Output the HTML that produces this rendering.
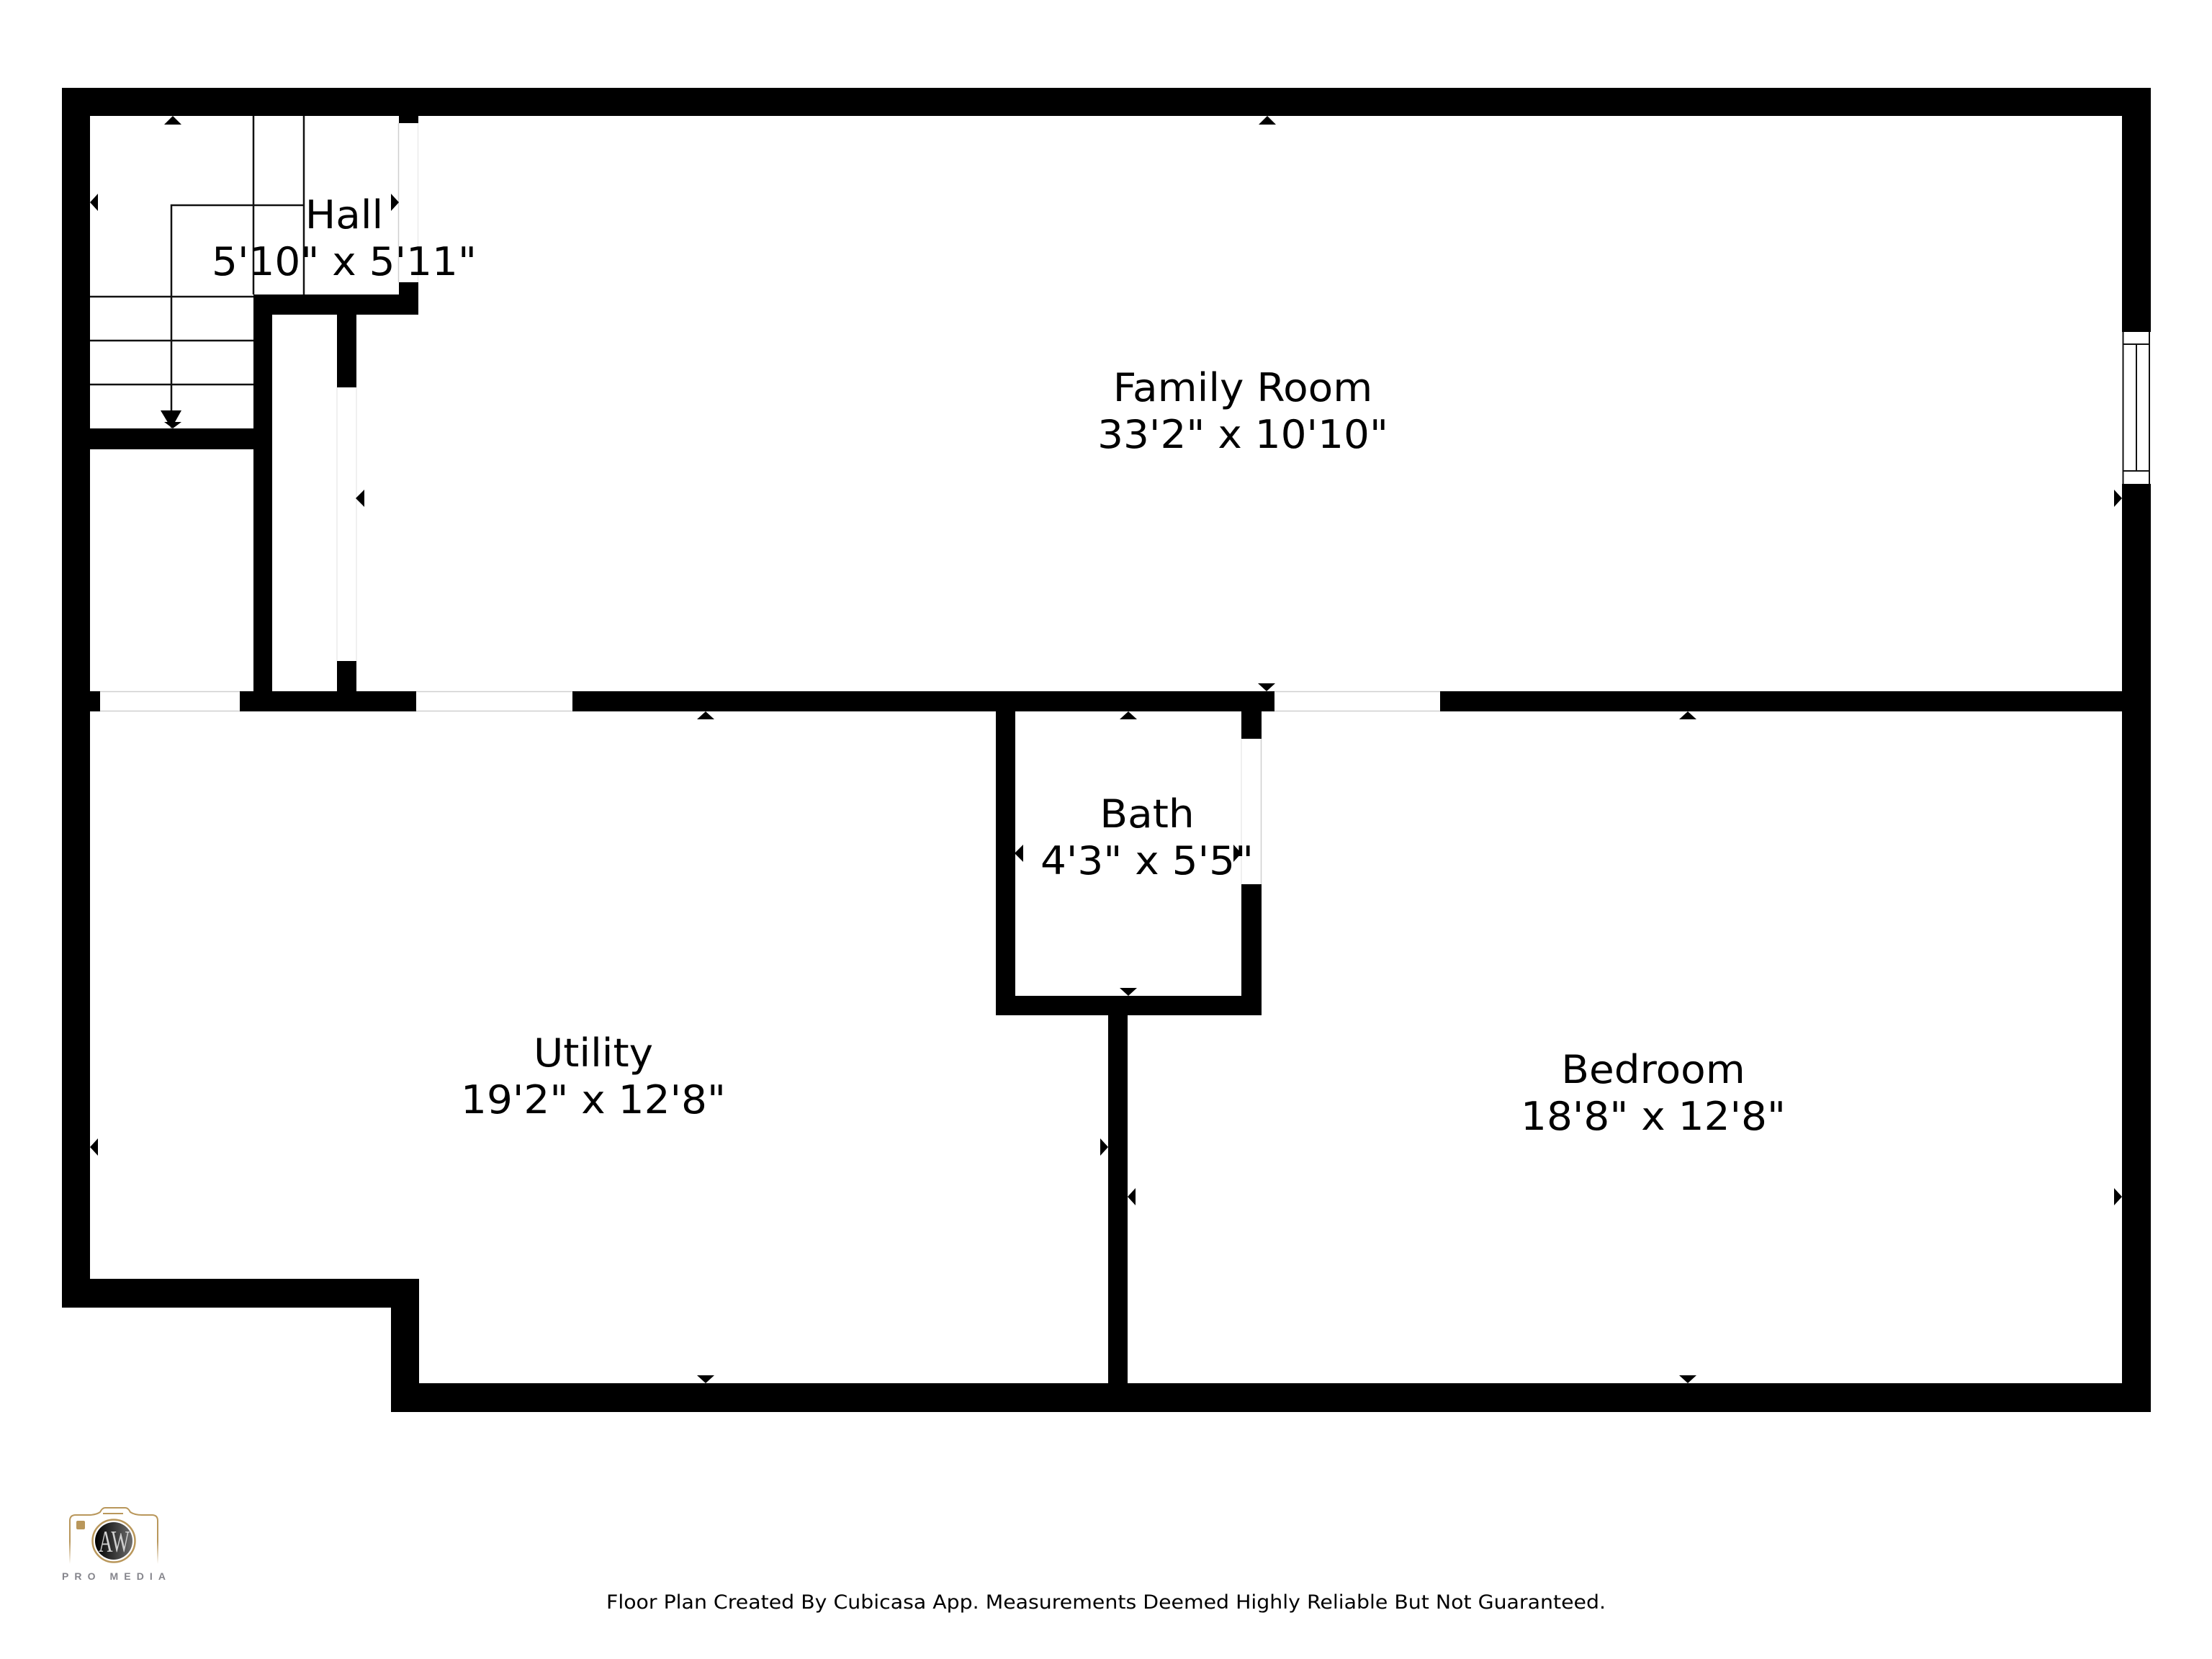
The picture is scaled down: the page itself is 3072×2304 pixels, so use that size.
<!DOCTYPE html>
<html><head><meta charset="utf-8"><style>
html,body{margin:0;padding:0;background:#fff}
svg{display:block}
text{font-family:"DejaVu Sans",sans-serif;fill:#000}
.l{font-size:54px;text-anchor:middle}
</style></head><body>
<svg width="3072" height="2304" viewBox="0 0 3072 2304" xmlns="http://www.w3.org/2000/svg">
<defs>
<linearGradient id="fg" x1="0" y1="0" x2="1" y2="0"><stop offset="0" stop-color="#000"/><stop offset="1" stop-color="#6d6d6d"/></linearGradient>
<linearGradient id="gold" x1="0" y1="0" x2="0" y2="1"><stop offset="0" stop-color="#b9975b"/><stop offset=".6" stop-color="#b9975b"/><stop offset="1" stop-color="#b9975b" stop-opacity="0"/></linearGradient>
</defs>
<rect width="3072" height="2304" fill="#fff"/>
<!-- stairs -->
<g stroke="#111" stroke-width="2.500" fill="none">
<path d="M352 161V409M422 161V409M238 578V285H422M125 412H352M125 473H352M125 534H352"/>
</g>
<!-- walls -->
<g fill="#000">
<rect x="86" y="122" width="2901" height="39"/>
<rect x="86" y="122" width="39" height="1694"/>
<rect x="86" y="1776" width="496" height="40"/>
<rect x="543" y="1776" width="39" height="185"/>
<rect x="543" y="1921" width="2444" height="40"/>
<rect x="2947" y="122" width="40" height="1839"/>
<rect x="554" y="122" width="27" height="49"/>
<rect x="554" y="392" width="27" height="45"/>
<rect x="352" y="409" width="229" height="28"/>
<rect x="352" y="409" width="26" height="579"/>
<rect x="125" y="595" width="227" height="29"/>
<rect x="468" y="437" width="27" height="101"/>
<rect x="468" y="918" width="27" height="70"/>
<rect x="86" y="960" width="2861" height="28"/>
<rect x="1383" y="960" width="27" height="450"/>
<rect x="1724" y="960" width="28" height="66"/>
<rect x="1724" y="1228" width="28" height="182"/>
<rect x="1383" y="1383" width="369" height="27"/>
<rect x="1539" y="1383" width="27" height="578"/>
</g>
<!-- door openings -->
<g fill="#fff">
<rect x="139" y="960" width="194" height="28"/>
<rect x="578" y="960" width="217" height="28"/>
<rect x="1770" y="960" width="230" height="28"/>
<rect x="2947" y="461" width="40" height="211"/>
</g>
<g stroke="#cfcfcf" stroke-width="1.5" fill="none">
<path d="M139 960.5H333M139 987.5H333M578 960.5H795M578 987.5H795M1770 960.5H2000M1770 987.5H2000"/>
<path d="M553.5 171V392M1751.5 1026V1228"/>
</g>
<g stroke="#ececec" stroke-width="1.5" fill="none">
<path d="M580.5 171V392M468 538V918M495 538V918M1724 1026V1228"/>
</g>
<!-- window -->
<g stroke="#111" stroke-width="2" fill="none">
<path d="M2948.5 461V672M2985 461V672M2949 478H2985M2949 654H2985M2967 478V654"/>
</g>
<!-- stair arrow -->
<path d="M223 570H252L238 595Z M228 586H252L240 595Z" fill="#000"/>
<!-- markers -->
<g fill="#000">
<path d="M240 161L252 173H228Z"/>
<path d="M1760 161L1772 173H1748Z"/>
<path d="M980 988L992 999H968Z"/>
<path d="M1567 988L1579 999H1555Z"/>
<path d="M2344 988L2356 999H2332Z"/>
<path d="M1759 960L1771 949H1747Z"/>
<path d="M1567 1383L1579 1372H1555Z"/>
<path d="M980 1921L992 1910H968Z"/>
<path d="M2344 1921L2356 1910H2332Z"/>
<path d="M125 281L136 269V293Z"/>
<path d="M494 692L506 680V704Z"/>
<path d="M125 1593L136 1581V1605Z"/>
<path d="M1409 1185L1421 1173V1197Z"/>
<path d="M1566 1662L1577 1650V1674Z"/>
<path d="M554 281L543 269V293Z"/>
<path d="M2947 692L2936 680V704Z"/>
<path d="M1539 1593L1528 1581V1605Z"/>
<path d="M1724 1185L1713 1173V1197Z"/>
<path d="M2947 1662L2936 1650V1674Z"/>
</g>
<!-- labels -->
<g>
<text class="l" transform="translate(478 317) scale(1.046 1)">Hall</text>
<text class="l" transform="translate(478 382) scale(1.046 1)">5'10" x 5'11"</text>
<text class="l" transform="translate(1726 557) scale(1.046 1)">Family Room</text>
<text class="l" transform="translate(1726 622) scale(1.046 1)">33'2" x 10'10"</text>
<text class="l" transform="translate(1593 1149) scale(1.046 1)">Bath</text>
<text class="l" transform="translate(1593 1214) scale(1.046 1)">4'3" x 5'5"</text>
<text class="l" transform="translate(824 1481) scale(1.046 1)">Utility</text>
<text class="l" transform="translate(824 1546) scale(1.046 1)">19'2" x 12'8"</text>
<text class="l" transform="translate(2296 1504) scale(1.046 1)">Bedroom</text>
<text class="l" transform="translate(2296 1569) scale(1.046 1)">18'8" x 12'8"</text>
</g>
<text x="842" y="2234" font-size="27" textLength="1388" lengthAdjust="spacingAndGlyphs">Floor Plan Created By Cubicasa App. Measurements Deemed Highly Reliable But Not Guaranteed.</text>
<!-- logo -->
<path d="M97 2172V2112Q97 2104 105 2104H123Q133 2104 139 2100Q142 2094 146 2094H174Q178 2094 181 2100Q187 2104 197 2104H211Q219 2104 219 2112V2172" fill="none" stroke="url(#gold)" stroke-width="2"/>
<rect x="143" y="2101" width="28" height="2" fill="#b9975b"/>
<rect x="106" y="2112" width="12" height="12" rx="2" fill="#b9975b"/>
<circle cx="158" cy="2140" r="29.500" fill="#fff" stroke="#b9975b" stroke-width="2.500"/>
<circle cx="158" cy="2140" r="26" fill="url(#fg)"/>
<text x="137" y="2155" font-size="42" style="font-family:'Liberation Serif',serif;fill:#cfcfcf" textLength="43" lengthAdjust="spacingAndGlyphs">AW</text>
<text x="86" y="2194" font-size="14" font-weight="bold" style="font-family:'Liberation Sans',sans-serif;fill:#85858c" textLength="144">PRO MEDIA</text>
</svg>
</body></html>
